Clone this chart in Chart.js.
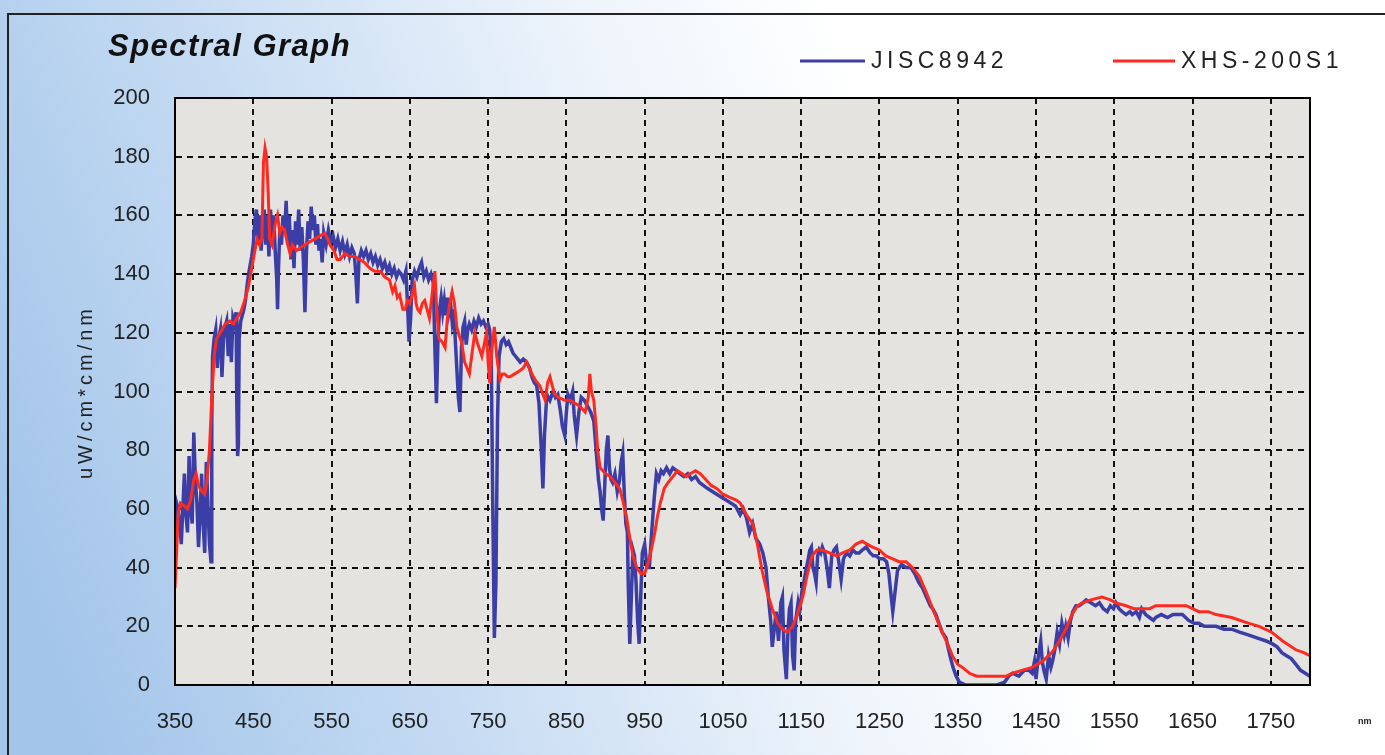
<!DOCTYPE html>
<html>
<head>
<meta charset="utf-8">
<title>Spectral Graph</title>
<script src="https://cdn.jsdelivr.net/npm/chart.js@4.4.0/dist/chart.umd.min.js"></script>
<style>
  html, body { margin: 0; padding: 0; background: #fff; }
  canvas { display: block; }
</style>
</head>
<body>
<canvas id="chartSpektrum" width="1385" height="755"></canvas>
<script>
// sumbu x (nm)
const tickNm = [350, 450, 550, 650, 750, 850, 950, 1050, 1150, 1250, 1350, 1450, 1550, 1650, 1750];
const tickY = [0, 20, 40, 60, 80, 100, 120, 140, 160, 180, 200];

// JISC8942 (biru)
const jiscNm = [350,352,354,356,358,360,362,364,366,368,370,372,374,376,378,380,382,384,386,388,390,392,394,396,397,398,400,402,404,406,408,410,412,414,416,418,420,422,424,426,428,429,430,431,432,434,436,438,440,442,444,446,448,450,452,454,456,458,460,462,464,466,468,470,472,474,476,478,480,481,482,484,486,488,490,492,494,496,498,500,502,504,506,508,510,512,514,516,518,520,522,524,526,528,530,532,534,536,538,540,543,546,549,552,555,558,561,564,567,570,573,576,579,581,583,585,588,591,594,597,600,603,606,609,612,615,618,621,624,627,630,633,636,639,642,645,647,649,651,653,656,659,662,665,668,671,674,677,680,682,684,686,688,690,692,694,696,698,700,702,704,706,708,710,712,714,716,718,720,722,724,726,729,732,735,738,741,744,747,750,752,754,756,758,760,762,764,767,770,773,776,779,782,785,788,791,795,799,803,806,809,812,815,818,820,822,825,829,833,836,839,842,845,848,850,852,855,858,860,863,866,869,873,877,881,885,888,891,893,895,897,899,901,903,905,907,909,912,915,918,920,922,924,926,928,929,931,933,935,937,939,941,943,945,947,950,953,956,959,962,965,968,971,974,978,982,986,991,995,1000,1005,1010,1015,1020,1025,1030,1036,1042,1048,1054,1060,1066,1072,1076,1080,1084,1088,1092,1097,1101,1105,1108,1111,1113,1116,1118,1121,1124,1126,1128,1131,1133,1135,1137,1139,1141,1143,1146,1148,1151,1154,1156,1159,1161,1163,1165,1167,1169,1171,1173,1175,1177,1180,1183,1186,1189,1192,1195,1198,1201,1204,1208,1212,1216,1220,1224,1228,1233,1238,1242,1246,1250,1255,1259,1262,1265,1267,1270,1273,1278,1284,1290,1295,1300,1305,1310,1315,1318,1322,1326,1330,1335,1340,1344,1348,1352,1360,1380,1400,1410,1415,1420,1428,1435,1441,1445,1448,1450,1453,1456,1458,1460,1463,1466,1469,1471,1474,1477,1480,1483,1486,1488,1491,1494,1497,1501,1505,1510,1514,1520,1526,1531,1536,1541,1545,1549,1552,1556,1560,1565,1570,1573,1578,1582,1585,1590,1595,1600,1603,1610,1618,1625,1632,1637,1645,1652,1658,1665,1671,1680,1690,1700,1710,1722,1733,1744,1752,1758,1764,1770,1776,1782,1788,1794,1800];
const jiscVal = [45,62,60,55,48,60,72,58,52,78,60,55,86,70,62,47,58,72,55,45,76,62,48,42,90,112,118,121,108,118,121,105,118,122,124,112,123,110,125,123,127,95,78,82,118,124,126,128,131,136,140,143,146,150,158,162,150,160,148,156,162,150,160,146,162,152,160,148,138,128,140,156,150,160,154,165,150,160,145,155,142,158,150,162,148,156,145,127,148,158,152,163,155,160,150,157,148,152,144,154,150,155,151,153,149,152,148,151,147,150,146,149,147,140,130,145,148,146,148,145,147,144,146,143,145,142,144,141,143,140,142,139,141,140,138,141,130,117,125,138,141,139,142,144,139,141,138,140,137,115,96,118,128,132,127,131,126,132,127,130,124,128,118,108,98,93,115,122,124,116,121,123,121,124,122,125,123,124,122,123,121,112,60,16,35,90,112,117,118,116,117,115,113,112,111,110,111,110,108,105,103,102,96,80,67,85,99,97,100,98,99,94,88,85,93,99,97,100,92,85,93,98,97,95,93,90,80,70,66,60,56,68,80,85,74,70,69,72,66,70,76,79,65,55,52,35,14,30,46,44,35,22,14,30,45,48,40,40,52,63,72,70,73,72,74,72,74,73,72,71,72,70,71,69,68,67,66,65,64,63,62,61,58,60,57,52,55,50,48,45,40,30,22,13,20,25,15,28,30,12,2,18,26,28,10,5,22,28,25,32,36,39,43,46,47,40,38,35,44,46,45,47,45,40,33,44,46,47,42,36,43,45,44,46,45,45,46,47,45,44,44,43,43,42,38,30,25,32,39,41,40,40,38,35,33,30,27,26,24,21,18,16,10,6,3,1,0,0,0,1,3,4,3,5,5,4,8,2,10,15,8,5,2,10,6,8,12,18,14,21,17,20,16,22,25,27,27,28,29,28,27,28,26,25,27,26,28,26,25,24,25,24,25,23,26,24,23,22,23,24,23,24,24,24,22,21,21,20,20,20,19,19,18,17,16,15,14,13,11,10,9,7,5,4,3];

// XHS-200S1 (merah)
const xhsNm = [350,352,354,357,362,366,370,374,377,380,384,388,391,394,397,400,403,408,414,420,425,429,434,439,444,448,452,455,458,461,463,465,467,469,471,474,478,481,484,487,490,494,497,500,505,510,516,522,529,535,541,545,548,553,557,561,567,573,580,586,592,599,605,612,618,624,628,631,634,637,641,644,647,650,653,656,658,660,663,666,669,672,675,678,682,684,687,691,695,698,701,704,707,710,713,716,720,723,726,729,733,737,742,745,748,750,752,755,758,761,765,768,771,775,778,784,790,795,799,804,810,816,820,823,826,829,832,835,840,848,855,861,867,874,878,880,882,885,888,890,893,900,906,912,918,922,927,931,935,940,945,950,955,960,963,966,970,975,980,986,992,998,1003,1008,1015,1021,1028,1035,1042,1050,1058,1067,1072,1080,1088,1094,1100,1106,1113,1120,1126,1132,1139,1145,1152,1158,1164,1170,1177,1186,1195,1203,1212,1220,1228,1234,1241,1250,1258,1267,1275,1284,1292,1301,1309,1318,1324,1330,1337,1343,1350,1356,1365,1374,1390,1405,1412,1420,1432,1445,1458,1470,1480,1488,1496,1503,1509,1520,1534,1545,1552,1565,1575,1585,1595,1603,1620,1642,1650,1658,1670,1680,1700,1722,1735,1751,1765,1782,1792,1800];
const xhsVal = [33,45,58,62,61,60,63,70,72,68,66,65,70,80,98,112,118,120,123,124,123,125,127,131,136,142,148,152,150,152,178,183,180,168,152,150,157,160,154,156,155,150,147,150,148,149,150,151,152,153,154,152,150,148,145,145,147,146,146,145,144,142,141,141,139,138,134,136,132,133,128,128,131,130,133,136,130,128,127,130,131,128,125,132,141,130,118,117,115,125,130,134,130,122,119,117,110,108,106,112,120,116,112,116,120,110,103,115,122,112,104,106,106,105,105,106,107,108,110,107,104,102,99,97,103,105,102,99,98,97,97,96,95,93,98,106,100,97,88,80,74,72,71,69,67,63,57,50,44,40,38,38,42,48,52,57,62,67,69,71,73,72,71,72,73,72,70,68,67,65,64,63,62,58,55,48,39,32,26,21,19,18,20,24,30,38,44,46,46,45,44,45,46,48,49,48,47,46,44,43,42,42,40,37,32,26,22,18,14,10,7,6,4,3,3,3,3,4,5,6,8,11,15,19,24,27,28,29,30,29,28,27,26,26,26,27,27,27,26,25,25,24,23,21,20,18,15,12,11,10];

const ctx = document.getElementById("chartSpektrum").getContext("2d");
const FONT = "'Liberation Sans', Arial, sans-serif";
const satuanY = "uW/cm*cm/nm";

// gabung x & y jadi titik
function titik(xs, ys) {
  return xs.map((x, i) => ({ x: x, y: ys[i] }));
}

// latar, bingkai, judul dan legenda
const latarPlugin = {
  id: "latar",
  beforeDraw(chart) {
    const c = chart.ctx;
    const a = chart.chartArea;
    c.save();
    const g = c.createLinearGradient(0, 520, 900, 180);
    g.addColorStop(0, "#a3c5ea");
    g.addColorStop(0.35, "#c4daf2");
    g.addColorStop(0.75, "#eef4fb");
    g.addColorStop(1, "#ffffff");
    c.fillStyle = g;
    c.fillRect(0, 0, chart.width, chart.height);
    c.fillStyle = "#e5e3e0";
    c.fillRect(a.left, a.top, a.right - a.left, a.bottom - a.top);
    c.restore();
  },
  afterDraw(chart) {
    const c = chart.ctx;
    const a = chart.chartArea;
    c.save();
    // bingkai luar
    c.strokeStyle = "#222";
    c.lineWidth = 2;
    c.beginPath();
    c.moveTo(1385, 14);
    c.lineTo(8, 14);
    c.lineTo(8, 755);
    c.stroke();
    // kotak area plot
    c.strokeStyle = "#000";
    c.lineWidth = 2;
    c.strokeRect(a.left, a.top, a.right - a.left, a.bottom - a.top);
    // judul
    c.fillStyle = "#111";
    c.font = "italic bold 31px " + FONT;
    c.letterSpacing = "1.5px";
    c.textBaseline = "alphabetic";
    c.fillText("Spectral Graph", 108, 56);
    // legenda
    c.font = "23px " + FONT;
    c.letterSpacing = "4.5px";
    c.textBaseline = "middle";
    const leg = [
      { ds: chart.data.datasets[1], x1: 800, x2: 865 },
      { ds: chart.data.datasets[0], x1: 1113, x2: 1175 }
    ];
    leg.forEach(l => {
      c.strokeStyle = l.ds.borderColor;
      c.lineWidth = 3;
      c.beginPath();
      c.moveTo(l.x1, 61);
      c.lineTo(l.x2, 61);
      c.stroke();
      c.fillStyle = "#222";
      c.fillText(l.ds.label, l.x2 + 6, 62);
    });
    // judul sumbu y
    c.save();
    c.translate(86, 392);
    c.rotate(-Math.PI / 2);
    c.font = "20px " + FONT;
    c.letterSpacing = "4px";
    c.textAlign = "center";
    c.fillText(satuanY, 0, 0);
    c.restore();
    // satuan nm
    c.letterSpacing = "0px";
    c.font = "bold 9px " + FONT;
    c.fillText("nm", 1358, 722);
    c.restore();
  }
};

new Chart(ctx, {
  type: "line",
  data: {
    datasets: [
      {
        label: "XHS-200S1",
        data: titik(xhsNm, xhsVal),
        borderColor: "#ff2a1f",
        borderWidth: 3,
        pointRadius: 0,
        tension: 0,
        order: 0
      },
      {
        label: "JISC8942",
        data: titik(jiscNm, jiscVal),
        borderColor: "#3a3ea6",
        borderWidth: 3.5,
        pointRadius: 0,
        tension: 0,
        order: 1
      }
    ]
  },
  options: {
    responsive: false,
    animation: false,
    layout: { padding: { top: 98, right: 75, left: 0, bottom: 0 } },
    plugins: {
      legend: { display: false },
      title: { display: false },
      tooltip: { enabled: false }
    },
    scales: {
      x: {
        type: "linear",
        min: 350,
        max: 1800,
        afterBuildTicks: s => { s.ticks = tickNm.map(v => ({ value: v })); },
        afterFit: s => { s.height = 70; },
        grid: { color: "#111", lineWidth: 2, drawTicks: false },
        border: { display: true, color: "#000", width: 2, dash: [6, 5] },
        ticks: {
          color: "#222",
          padding: 24,
          maxRotation: 0,
          autoSkip: false,
          font: { family: FONT, size: 22 },
          callback: v => String(v)
        }
      },
      y: {
        min: 0,
        max: 200,
        afterBuildTicks: s => { s.ticks = tickY.map(v => ({ value: v })); },
        afterFit: s => { s.width = 175; },
        grid: { color: "#111", lineWidth: 2, drawTicks: false },
        border: { display: true, color: "#000", width: 2, dash: [6, 5] },
        ticks: { color: "#222", padding: 25, font: { family: FONT, size: 22 } }
      }
    }
  },
  plugins: [latarPlugin]
});
</script>
</body>
</html>
